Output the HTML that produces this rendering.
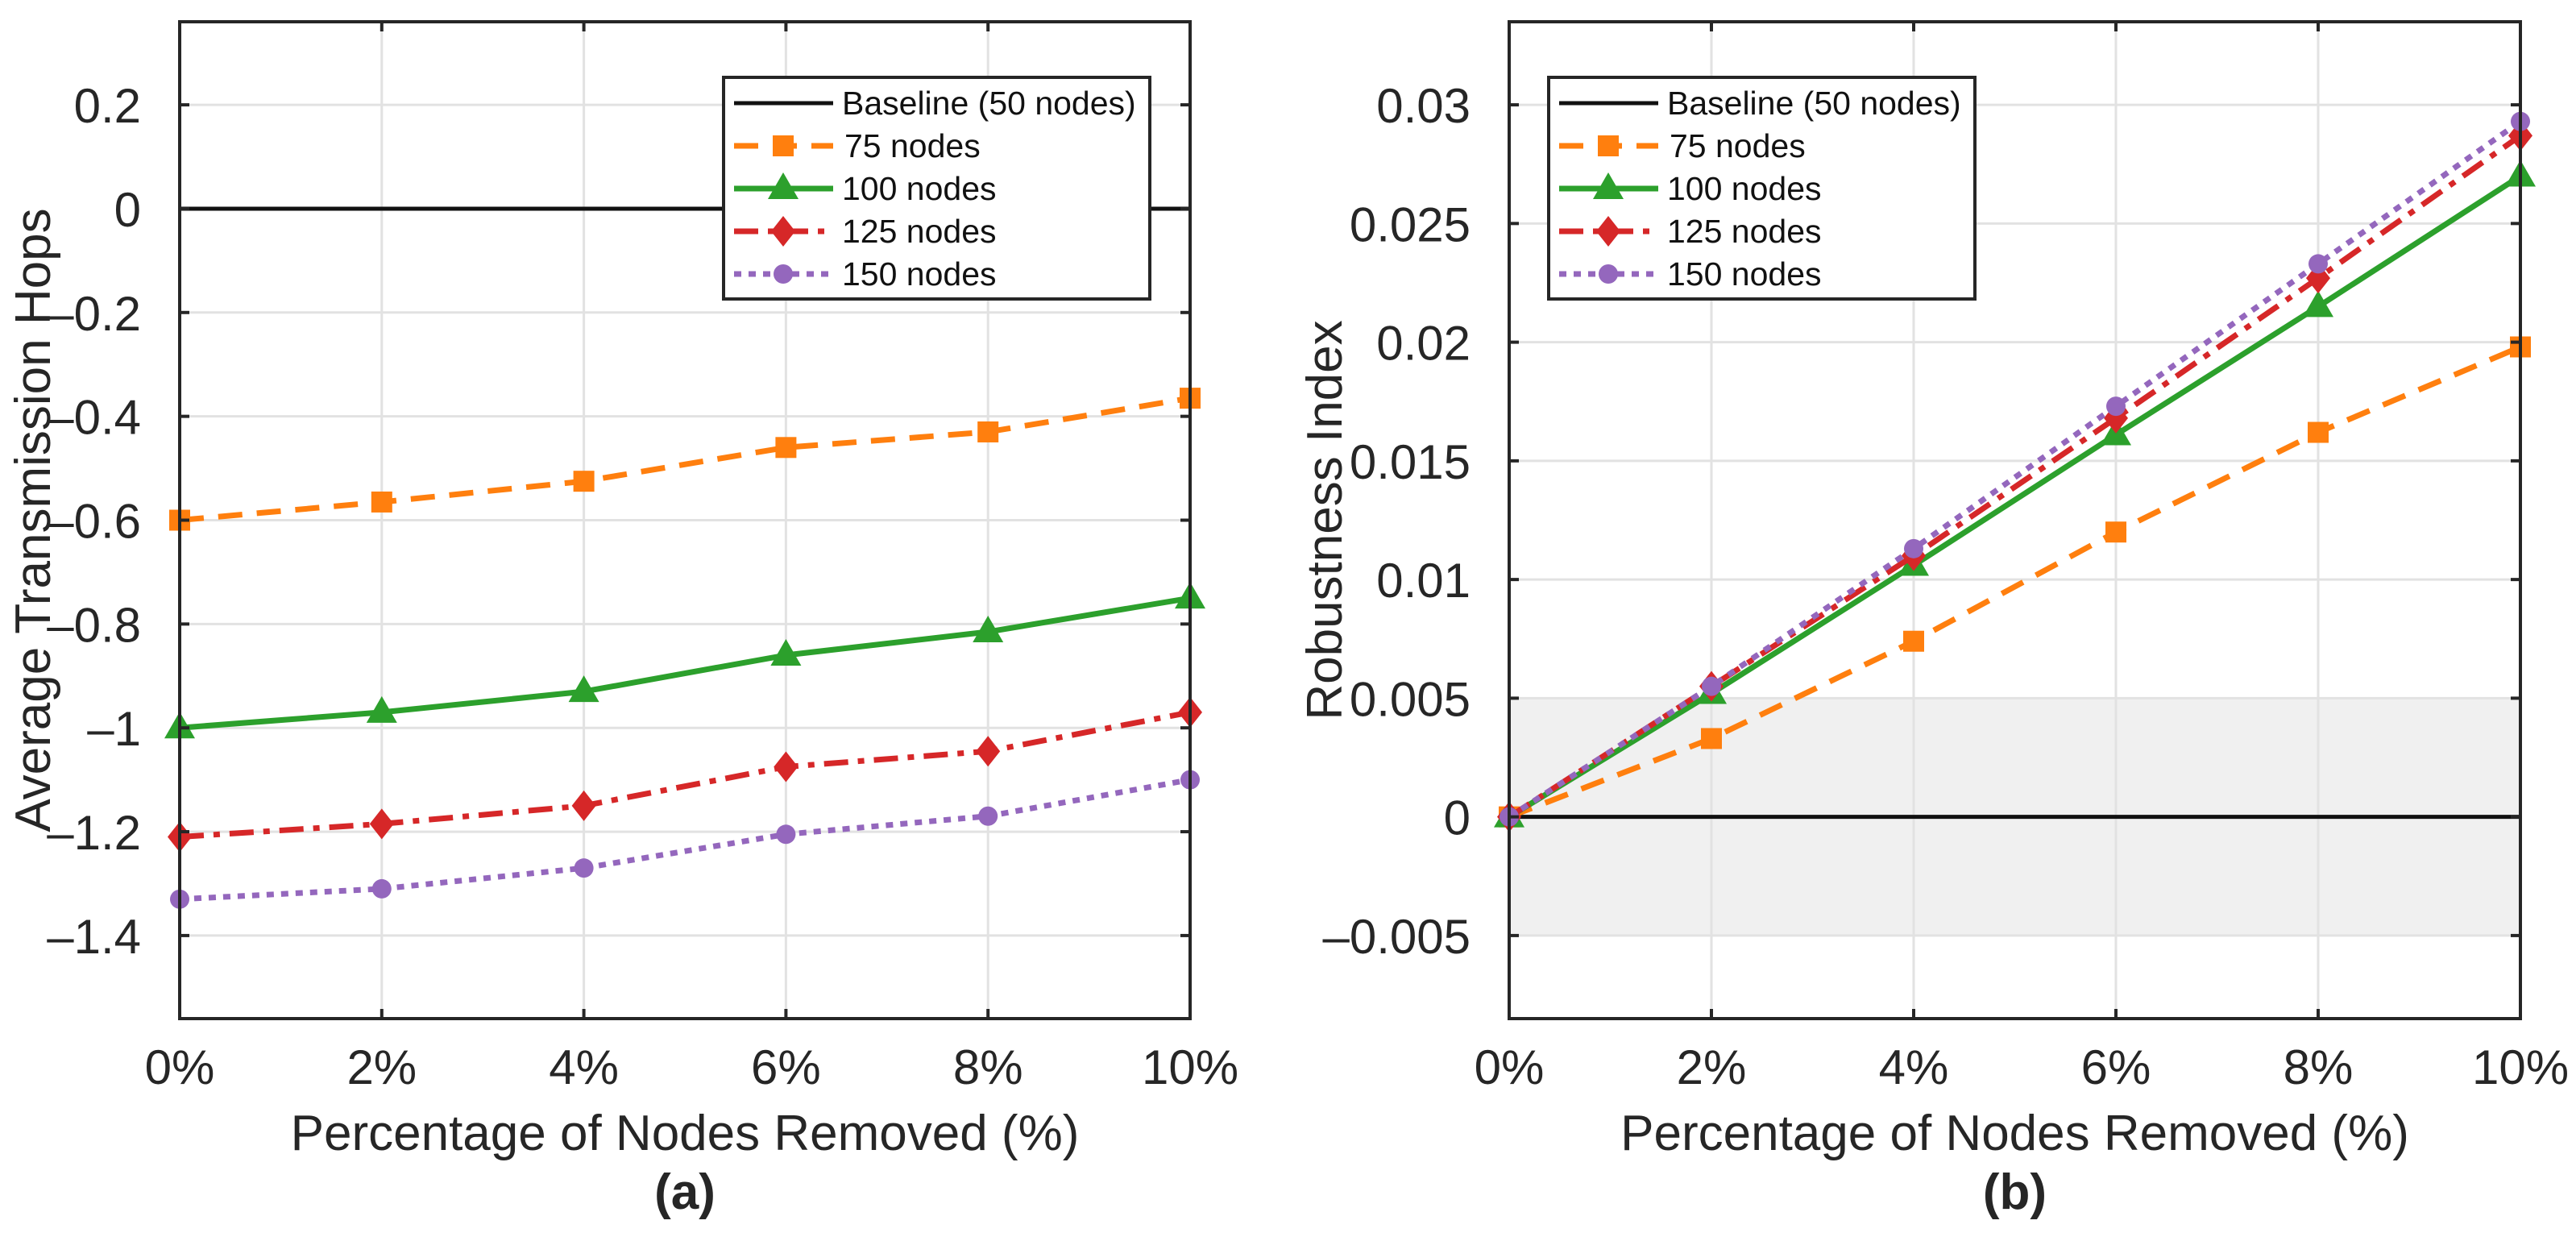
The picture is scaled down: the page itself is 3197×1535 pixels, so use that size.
<!DOCTYPE html>
<html><head><meta charset="utf-8"><style>
html,body{margin:0;padding:0;background:#fff;}
svg{display:block;font-family:"Liberation Sans",Arial,sans-serif;}
</style></head><body>
<svg id="fig" width="3197" height="1535" viewBox="0 0 3197 1535" xmlns="http://www.w3.org/2000/svg"></svg>
<script>
const categories = ["0%","2%","4%","6%","8%","10%"];
const xValues = [0,2,4,6,8,10];
const seriesNames = ["75 nodes","100 nodes","125 nodes","150 nodes"];
const hops75 = [-0.60,-0.565,-0.525,-0.46,-0.43,-0.365];
const hops100 = [-1.0,-0.97,-0.93,-0.86,-0.815,-0.75];
const hops125 = [-1.21,-1.185,-1.15,-1.075,-1.045,-0.97];
const hops150 = [-1.33,-1.31,-1.27,-1.205,-1.17,-1.10];
const rob75 = [0,0.0033,0.0074,0.0120,0.0162,0.0198];
const rob100 = [0,0.0052,0.0106,0.0161,0.0215,0.0270];
const rob125 = [0,0.0055,0.0110,0.0168,0.0227,0.0287];
const rob150 = [0,0.0055,0.0113,0.0173,0.0233,0.0293];
const leftTicks = [0.2,0,-0.2,-0.4,-0.6,-0.8,-1,-1.2,-1.4];
const leftTickLabels = ["0.2","0","\u20130.2","\u20130.4","\u20130.6","\u20130.8","\u20131","\u20131.2","\u20131.4"];
const rightTicks = [0.03,0.025,0.02,0.015,0.01,0.005,0,-0.005];
const rightTickLabels = ["0.03","0.025","0.02","0.015","0.01","0.005","0","\u20130.005"];

const NS="http://www.w3.org/2000/svg";
const svg=document.getElementById('fig');
function mk(tag,attrs,parent){const e=document.createElementNS(NS,tag);for(const k in attrs)e.setAttribute(k,attrs[k]);(parent||svg).appendChild(e);return e;}
const styles=[
 {color:"#ff7f0e",dash:"30 18",marker:"square"},
 {color:"#2ca02c",dash:"none",marker:"triangle"},
 {color:"#d62728",dash:"30 12 8 12",marker:"diamond"},
 {color:"#9467bd",dash:"9 9",marker:"circle"}
];
function marker(g,type,x,y,color){
 let e;
 if(type==="square"){e=mk('rect',{x:x-13,y:y-13,width:26,height:26,fill:color},g);}
 else if(type==="triangle"){e=mk('polygon',{points:`${x},${y-20} ${x+19},${y+13} ${x-19},${y+13}`,fill:color},g);}
 else if(type==="diamond"){e=mk('polygon',{points:`${x},${y-19} ${x+15},${y} ${x},${y+19} ${x-15},${y}`,fill:color},g);}
 else {e=mk('circle',{cx:x,cy:y,r:12,fill:color},g);}
 
 
}
function panel(o){
 const {L,R,T,B,ymin,ymax,ticks,tickLabels,series,ytitle,ytitleX,tag,legX,shade,name}=o;
 const g=mk('g',{});
 
 
 const xs=v=>L+(v-xValues[0])/(xValues[xValues.length-1]-xValues[0])*(R-L);
 const ys=v=>T+(ymax-v)/(ymax-ymin)*(B-T);
 if(shade){const s=mk('rect',{x:L,y:ys(shade[1]),width:R-L,height:ys(shade[0])-ys(shade[1]),fill:"#f0f0f0"},g);
  }
 xValues.forEach(v=>{const l=mk('line',{x1:xs(v),x2:xs(v),y1:T,y2:B,stroke:"#e2e2e2","stroke-width":3},g);
  });
 ticks.forEach(v=>{const l=mk('line',{x1:L,x2:R,y1:ys(v),y2:ys(v),stroke:"#e2e2e2","stroke-width":3},g);
  });
 const bl=mk('line',{x1:L,x2:R,y1:ys(0),y2:ys(0),stroke:"#111","stroke-width":5},g);
 
 series.forEach((arr,i)=>{
  const st=styles[i];
  const pts=arr.map((v,j)=>xs(xValues[j])+","+ys(v)).join(" ");
  const pl=mk('polyline',{points:pts,fill:"none",stroke:st.color,"stroke-width":7,"stroke-dasharray":st.dash,"stroke-linejoin":"round"},g);
  
  
  arr.forEach((v,j)=>marker(g,st.marker,xs(xValues[j]),ys(v),st.color));
 });
 const box=mk('rect',{x:L,y:T,width:R-L,height:B-T,fill:"none",stroke:"#262626","stroke-width":4},g);
 
 xValues.forEach((v,i)=>{
  mk('line',{x1:xs(v),x2:xs(v),y1:B,y2:B-12,stroke:"#262626","stroke-width":4},g);
  mk('line',{x1:xs(v),x2:xs(v),y1:T,y2:T+12,stroke:"#262626","stroke-width":4},g);
  const t=mk('text',{x:xs(v),y:1345,"text-anchor":"middle","font-size":60,fill:"#262626"},g);
  t.textContent=categories[i];
  
 });
 ticks.forEach((v,i)=>{
  mk('line',{x1:L,x2:L+12,y1:ys(v),y2:ys(v),stroke:"#262626","stroke-width":4},g);
  mk('line',{x1:R,x2:R-12,y1:ys(v),y2:ys(v),stroke:"#262626","stroke-width":4},g);
  const t=mk('text',{x:L-48,y:ys(v)+22,"text-anchor":"end","font-size":60,fill:"#262626"},g);
  t.textContent=tickLabels[i];
  
 });
 const xt=mk('text',{x:(L+R)/2,y:1427,"text-anchor":"middle","font-size":62,fill:"#262626"},g);
 xt.textContent="Percentage of Nodes Removed (%)";
 
 const yt=mk('text',{x:0,y:0,"text-anchor":"middle","font-size":62,fill:"#262626",transform:`translate(${ytitleX},${(T+B)/2}) rotate(-90)`},g);
 yt.textContent=ytitle;
 
 const pt=mk('text',{x:(L+R)/2,y:1500,"text-anchor":"middle","font-size":62,"font-weight":"bold",fill:"#262626"},g);
 pt.textContent=tag;
 
 const lg=mk('g',{},g);
 
 mk('rect',{x:legX,y:96,width:529,height:275,fill:"#fff",stroke:"#262626","stroke-width":4},lg);
 const names=["Baseline (50 nodes)"].concat(seriesNames);
 names.forEach((n,i)=>{
  const y=128+i*53;
  const e=mk('g',{},lg);
  
  if(i===0){mk('line',{x1:legX+13,x2:legX+136,y1:y,y2:y,stroke:"#111","stroke-width":5},e);}
  else{const st=styles[i-1];
   mk('line',{x1:legX+13,x2:legX+136,y1:y,y2:y,stroke:st.color,"stroke-width":7,"stroke-dasharray":st.dash},e);
   marker(e,st.marker,legX+74,y,st.color);}
  const t=mk('text',{x:legX+(i===1?150:147),y:y+14,"font-size":41,fill:"#111"},e);
  t.textContent=n;
 });
}
panel({name:"panel-a-hops-chart",L:223,R:1477,T:27,B:1264,ymin:-1.56,ymax:0.36,ticks:leftTicks,tickLabels:leftTickLabels,
 series:[hops75,hops100,hops125,hops150],ytitle:"Average Transmission Hops",ytitleX:62,tag:"(a)",legX:898});
panel({name:"panel-b-robustness-chart",L:1873,R:3128,T:27,B:1264,ymin:-0.0085,ymax:0.0335,ticks:rightTicks,tickLabels:rightTickLabels,
 series:[rob75,rob100,rob125,rob150],ytitle:"Robustness Index",ytitleX:1665,tag:"(b)",legX:1922,shade:[-0.005,0.005]});
</script>
</body></html>
